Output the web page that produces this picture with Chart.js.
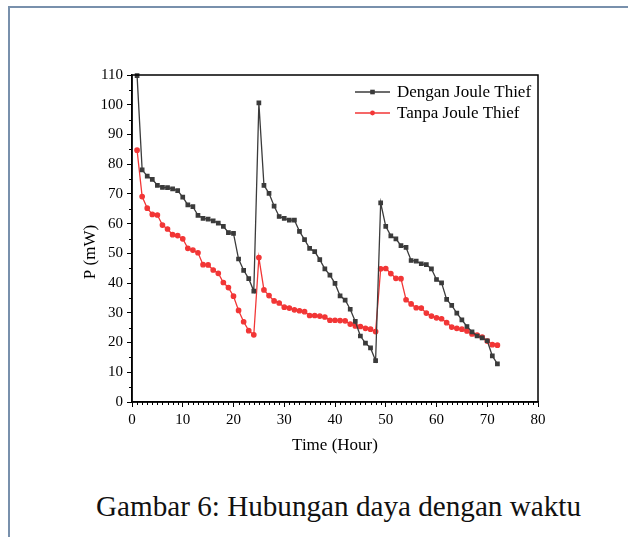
<!DOCTYPE html>
<html>
<head>
<meta charset="utf-8">
<script src="https://cdn.jsdelivr.net/npm/chart.js@4"></script>
<style>
  html, body { margin: 0; padding: 0; background: #fff; width: 628px; height: 537px; overflow: hidden; }
  #frame { position: absolute; left: 8px; top: 6px; width: 640px; height: 560px;
           border-top: 2px solid #7890ac; border-left: 2px solid #7890ac; }
  #c { position: absolute; left: 0; top: 0; }
  #caption { position: absolute; left: 96px; top: 490px; white-space: nowrap;
             font-family: "Liberation Serif", "DejaVu Serif", serif; font-size: 30px; color: #111; }
</style>
</head>
<body>
<div id="frame"></div>
<canvas id="c" width="628" height="470"></canvas>
<div id="caption">Gambar 6: Hubungan daya dengan waktu</div>
<script>
const hours = [1,2,3,4,5,6,7,8,9,10,11,12,13,14,15,16,17,18,19,20,21,22,23,24,
  25,26,27,28,29,30,31,32,33,34,35,36,37,38,39,40,41,42,43,44,45,46,47,48,
  49,50,51,52,53,54,55,56,57,58,59,60,61,62,63,64,65,66,67,68,69,70,71,72];
const denganJT = [109.8,78.1,76.0,74.9,72.9,72.2,72.1,71.7,71.1,68.9,66.3,65.7,
  62.8,61.8,61.5,60.9,60.2,59.1,57.0,56.7,48.1,44.3,41.5,37.3,
  100.6,72.9,70.2,65.9,62.4,61.8,61.2,61.2,57.4,54.6,51.7,50.6,
  47.9,44.8,42.7,39.9,35.7,34.3,31.2,27.1,22.2,19.8,18.2,13.9,
  67.0,59.1,55.9,54.9,52.6,52.0,47.6,47.4,46.5,46.2,44.8,41.2,
  40.1,34.5,32.5,29.9,27.6,25.4,23.6,22.2,21.6,20.6,15.5,12.8];
const tanpaJT = [84.7,69.1,65.2,63.1,62.9,59.5,58.2,56.3,56.0,54.9,51.7,51.1,
  50.2,46.2,46.1,44.4,43.3,40.2,38.5,35.6,30.8,27.0,24.0,22.6,
  48.6,37.7,35.8,34.0,33.3,31.9,31.6,31.0,30.7,30.4,29.1,29.1,
  28.9,28.6,27.5,27.5,27.4,27.3,26.2,25.6,25.4,24.8,24.5,23.7,
  44.8,44.9,43.2,41.6,41.5,34.4,33.0,31.7,31.6,29.9,28.9,28.3,
  28.0,26.7,25.2,24.8,24.5,23.9,22.9,22.5,21.8,20.5,19.3,19.1];
const seriesLabels = ["Dengan Joule Thief", "Tanpa Joule Thief"];
const xTitle = "Time (Hour)";
const yTitle = "P (mW)";

const SERIF = '"Liberation Serif", "Times New Roman", serif';
const BLACK = '#3b3b3b';
const RED = '#f23636';

function pts(ys) { return hours.map((h, i) => ({ x: h, y: ys[i] })); }

const frameAndMinor = {
  id: 'frameAndMinor',
  afterDraw(chart) {
    const { ctx, chartArea: a, scales: { x, y } } = chart;
    ctx.save();
    ctx.strokeStyle = '#000';
    ctx.lineWidth = 1.5;
    ctx.strokeRect(a.left, a.top, a.right - a.left, a.bottom - a.top);
    ctx.lineWidth = 1;
    ctx.beginPath();
    for (let v = 1; v < 80; v++) {
      if (v % 10 === 0) continue;
      const px = Math.round(x.getPixelForValue(v)) + 0.5;
      ctx.moveTo(px, a.bottom); ctx.lineTo(px, a.bottom + 3);
    }
    for (let v = 5; v < 110; v += 10) {
      const py = Math.round(y.getPixelForValue(v)) + 0.5;
      ctx.moveTo(a.left, py); ctx.lineTo(a.left - 3, py);
    }
    ctx.stroke();
    // y axis title
    ctx.translate(91, 252);
    ctx.rotate(-Math.PI / 2);
    ctx.fillStyle = '#000';
    ctx.font = '17px ' + SERIF;
    ctx.textAlign = 'center';
    ctx.textBaseline = 'middle';
    ctx.fillText(yTitle, 0, 0);
    ctx.restore();
  }
};

const insideLegend = {
  id: 'insideLegend',
  afterDatasetsDraw(chart) {
    const { ctx } = chart;
    const rows = [92, 113];
    ctx.save();
    chart.data.datasets.forEach((ds, i) => {
      const yy = rows[i];
      ctx.strokeStyle = ds.borderColor;
      ctx.lineWidth = 1.3;
      ctx.beginPath(); ctx.moveTo(355, yy); ctx.lineTo(390, yy); ctx.stroke();
      ctx.fillStyle = ds.pointBackgroundColor;
      if (ds.pointStyle === 'rect') {
        ctx.fillRect(372.5 - 2.3, yy - 2.3, 4.6, 4.6);
      } else {
        ctx.beginPath(); ctx.arc(372.5, yy, 2.4, 0, Math.PI * 2); ctx.fill();
      }
      ctx.fillStyle = '#000';
      ctx.font = '17px ' + SERIF;
      ctx.textBaseline = 'middle';
      ctx.textAlign = 'left';
      ctx.fillText(ds.label, 397, yy + 1);
    });
    ctx.restore();
  }
};

new Chart(document.getElementById('c'), {
  type: 'line',
  data: {
    datasets: [
      { label: seriesLabels[0], data: pts(denganJT), borderColor: BLACK, backgroundColor: BLACK,
        pointBackgroundColor: BLACK, pointBorderColor: BLACK, pointStyle: 'rect', pointRadius: 2.4,
        borderWidth: 1.3, tension: 0, clip: false },
      { label: seriesLabels[1], data: pts(tanpaJT), borderColor: RED, backgroundColor: RED,
        pointBackgroundColor: RED, pointBorderColor: RED, pointStyle: 'circle', pointRadius: 2.2,
        borderWidth: 1.3, tension: 0, clip: false }
    ]
  },
  options: {
    responsive: false,
    devicePixelRatio: 1,
    animation: false,
    layout: { padding: { left: 60, top: 75, right: 90, bottom: 0 } },
    plugins: { legend: { display: false }, tooltip: { enabled: false } },
    scales: {
      x: {
        type: 'linear', min: 0, max: 80,
        ticks: { stepSize: 10, color: '#000', font: { family: SERIF, size: 15 }, padding: 4, maxRotation: 0 },
        grid: { display: true, drawOnChartArea: false, drawTicks: true, tickLength: 5, tickColor: '#000', tickWidth: 1 },
        border: { display: true, color: '#000', width: 1.5 },
        title: { display: true, text: xTitle, color: '#000', font: { family: SERIF, size: 17 }, padding: { top: 0, bottom: 14 } },
        afterFit(s) { s.height = 68; }
      },
      y: {
        type: 'linear', min: 0, max: 110,
        ticks: { stepSize: 10, color: '#000', font: { family: SERIF, size: 15 }, padding: 4 },
        grid: { display: true, drawOnChartArea: false, drawTicks: true, tickLength: 5, tickColor: '#000', tickWidth: 1 },
        border: { display: true, color: '#000', width: 1.5 },
        title: { display: false },
        afterFit(s) { s.width = 72; }
      }
    }
  },
  plugins: [frameAndMinor, insideLegend]
});

// fit caption width to reference
const cap = document.getElementById('caption');
const w = cap.getBoundingClientRect().width;
cap.style.fontSize = (30 * 485 / w).toFixed(2) + 'px';
</script>
</body>
</html>
